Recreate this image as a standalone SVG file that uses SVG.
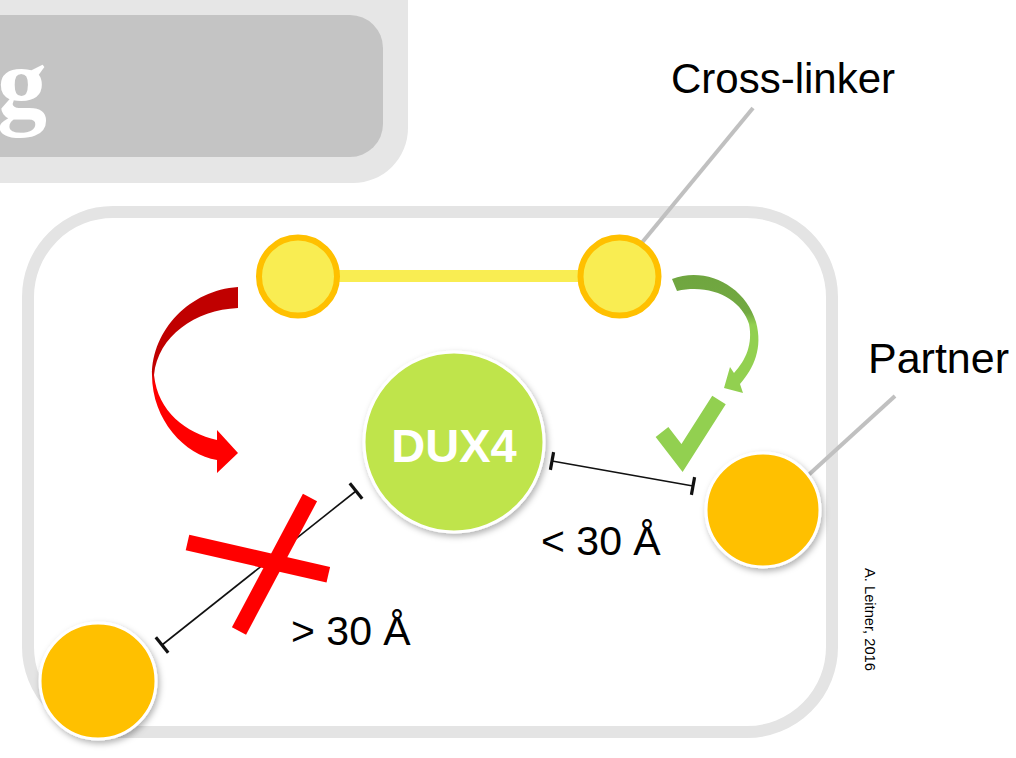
<svg xmlns="http://www.w3.org/2000/svg" width="1016" height="758" viewBox="0 0 1016 758">
  <style>
    .lbl { font-family: "Liberation Sans", Arial, sans-serif; fill: #000; }
    .leader { stroke: #c0c0c0; stroke-width: 4; fill: none; }
    .dim { stroke: #111; stroke-width: 1.6; fill: none; }
    .cap { stroke: #111; stroke-width: 3.2; fill: none; }
    .xbar { stroke: #ff0000; stroke-width: 16; fill: none; }
    .partner { fill: #ffc000; stroke: #ffffff; stroke-width: 3; filter: url(#shadow); }
    .link { fill: #f9ed52; stroke: #ffc000; stroke-width: 6; }
  </style>
  <defs>
    <filter id="shadow" x="-20%" y="-20%" width="140%" height="140%">
      <feDropShadow dx="2" dy="3" stdDeviation="3" flood-color="#000" flood-opacity="0.3"/>
    </filter>
    <linearGradient id="redGrad" gradientUnits="userSpaceOnUse" x1="0" y1="287" x2="0" y2="473">
      <stop offset="0" stop-color="#c00000"/>
      <stop offset="0.45" stop-color="#c00000"/>
      <stop offset="0.52" stop-color="#ff0000"/>
      <stop offset="1" stop-color="#ff0000"/>
    </linearGradient>
    <linearGradient id="greenGrad" gradientUnits="userSpaceOnUse" x1="0" y1="270" x2="0" y2="392">
      <stop offset="0" stop-color="#6fa53f"/>
      <stop offset="0.35" stop-color="#72a942"/>
      <stop offset="0.45" stop-color="#92d050"/>
      <stop offset="1" stop-color="#92d050"/>
    </linearGradient>
  </defs>

  <g id="banner">
    <rect x="-100" y="-100" width="508" height="283" rx="55" fill="#e6e6e6"/>
    <rect x="-100" y="15" width="483" height="142" rx="33" fill="#c4c4c4"/>
    <text x="47" y="117" text-anchor="end" font-family="'Liberation Serif', 'Times New Roman', serif" font-weight="bold" font-size="100" fill="#ffffff">g</text>
  </g>

  <g id="frame">
    <rect x="28" y="212" width="804" height="520" rx="85" fill="#ffffff" stroke="#e4e4e4" stroke-width="12"/>
  </g>

  <g id="connectors">
    <line class="leader" x1="753" y1="108" x2="640" y2="245"/>
    <line class="leader" x1="895" y1="396" x2="803" y2="480"/>
    <path d="M238,287 C190,290 152,330 152,375 C152,420 185,455 217,460 L217,473 L238,453 L217,430 L217,440 C186,433 158,412 154,375 C158,336 195,310 238,308 Z" fill="url(#redGrad)"/>
    <path d="M672,279 C705,266 745,285 756,322 C763,348 754,368 740,384 L743,393 L724,388 L730,367 L734,373 C746,360 753,344 749,324 C742,300 712,283 677,291 Z" fill="url(#greenGrad)"/>
    <polyline points="662,432 682,458 719,400" fill="none" stroke="#92d050" stroke-width="16" stroke-linejoin="miter"/>
    <line class="dim" x1="552" y1="461" x2="693" y2="486"/>
    <line class="cap" x1="553.6" y1="452.1" x2="550.4" y2="469.9"/>
    <line class="cap" x1="694.6" y1="477.1" x2="691.4" y2="494.9"/>
    <line class="dim" x1="356" y1="491" x2="162" y2="645"/>
    <line class="cap" x1="349.8" y1="483.2" x2="362.2" y2="498.8"/>
    <line class="cap" x1="155.8" y1="637.2" x2="168.2" y2="652.8"/>
    <line class="xbar" x1="187.5" y1="542.5" x2="328.3" y2="574.7"/>
    <line class="xbar" x1="310" y1="497.5" x2="239" y2="631"/>
  </g>

  <g id="crosslinker">
    <rect x="336" y="270" width="246" height="12" fill="#f9ed52"/>
    <circle class="link" cx="298" cy="276.5" r="39"/>
    <circle class="link" cx="619.5" cy="276.5" r="39"/>
    <text class="lbl" x="671" y="93" font-size="42">Cross-linker</text>
  </g>

  <g id="dux4">
    <circle cx="454" cy="442" r="90" fill="#bfe44b" stroke="#ffffff" stroke-width="3" filter="url(#shadow)"/>
    <text x="454" y="462" text-anchor="middle" font-family="'Liberation Sans', Arial, sans-serif" font-weight="bold" font-size="47" fill="#ffffff">DUX4</text>
  </g>

  <g id="partner">
    <circle class="partner" cx="763" cy="510" r="57"/>
    <text class="lbl" x="868" y="373" font-size="43">Partner</text>
  </g>

  <g id="distant">
    <circle class="partner" cx="98" cy="681" r="58"/>
  </g>

  <g id="labels">
    <text class="lbl" x="541" y="555" font-size="41">&lt; 30 Å</text>
    <text class="lbl" x="291" y="645" font-size="41">&gt; 30 Å</text>
    <text class="lbl" transform="translate(865,568) rotate(90)" font-size="14.7">A. Leitner, 2016</text>
  </g>
</svg>
